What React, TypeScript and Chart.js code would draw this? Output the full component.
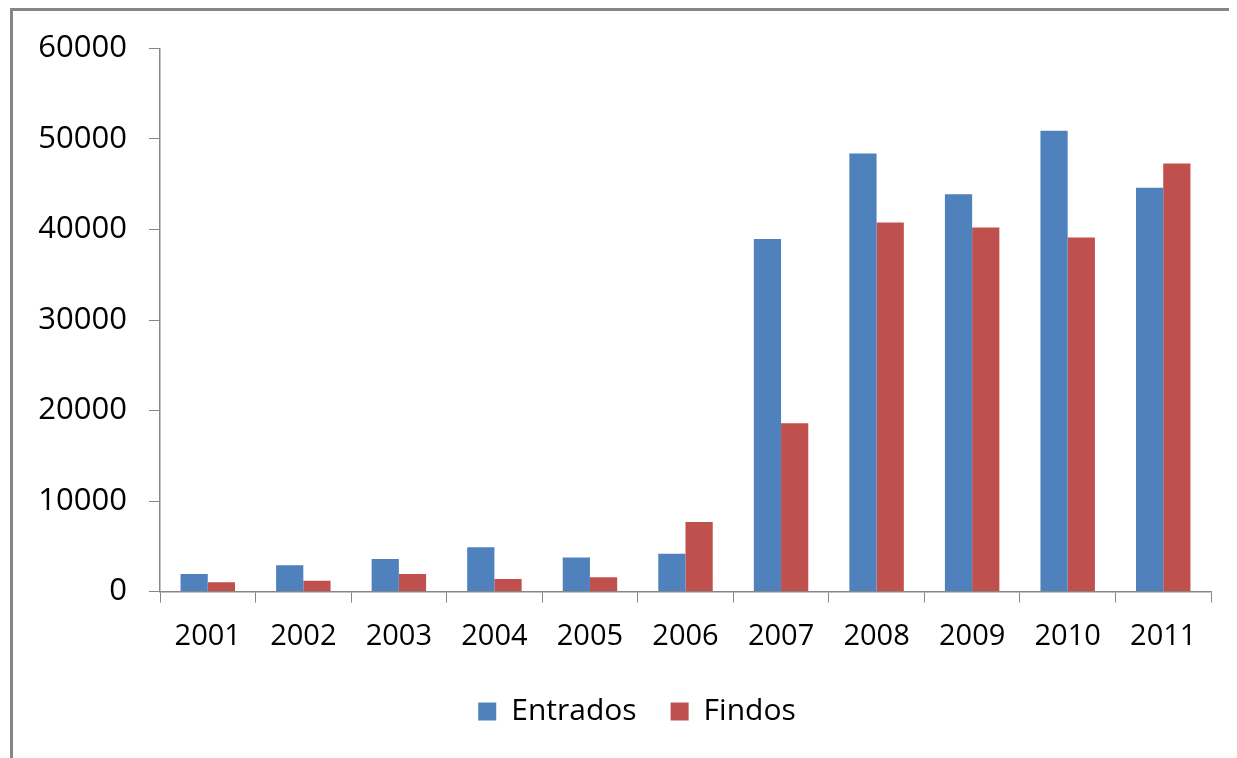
import React, { useEffect, useRef } from "react";
import { Chart, registerables } from "chart.js";

Chart.register(...registerables);

const categories = ["2001", "2002", "2003", "2004", "2005", "2006", "2007", "2008", "2009", "2010", "2011"];
const entrados = [1930, 2890, 3590, 4880, 3770, 4170, 38950, 48400, 43900, 50900, 44600];
const findos = [1015, 1190, 1930, 1380, 1565, 7670, 18600, 40780, 40220, 39120, 47280];
const yTicks = [0, 10000, 20000, 30000, 40000, 50000, 60000];

const FONT = "'Open Sans', Lato, sans-serif";
const AXIS_GRAY = "#868686";

const legendShift = {
  id: "legendShift",
  afterLayout(chart: any) {
    const l = chart.legend;
    if (l) {
      l.left += 25;
      l.right += 25;
      l.top -= 8;
      l.bottom -= 8;
    }
  },
};

export default function App() {
  const ref = useRef<HTMLCanvasElement | null>(null);

  useEffect(() => {
    if (!ref.current) return;
    const chart = new Chart(ref.current, {
      type: "bar",
      data: {
        labels: categories,
        datasets: [
          { label: "Entrados", data: entrados, backgroundColor: "#4F81BD", borderWidth: 0 },
          { label: "Findos", data: findos, backgroundColor: "#C0504D", borderWidth: 0 },
        ],
      },
      plugins: [legendShift],
      options: {
        animation: false,
        responsive: false,
        maintainAspectRatio: false,
        layout: { padding: { top: 0, right: 26, left: 0, bottom: 13.5 } },
        datasets: { bar: { categoryPercentage: 0.57, barPercentage: 1 } },
        plugins: {
          tooltip: { enabled: false },
          legend: {
            position: "bottom",
            labels: {
              boxWidth: 18,
              boxHeight: 18,
              padding: 34,
              color: "#000",
              font: { family: FONT, size: 30 },
            },
          },
        },
        scales: {
          x: {
            grid: { drawOnChartArea: false, tickLength: 11, color: AXIS_GRAY, offset: true },
            border: { color: AXIS_GRAY, width: 1.5 },
            ticks: {
              color: "#000",
              font: { family: FONT, size: 29, lineHeight: 1 },
              padding: 19.5,
              maxRotation: 0,
            },
          },
          y: {
            min: 0,
            max: 60000,
            afterBuildTicks: (s: any) => {
              s.ticks = yTicks.map((v) => ({ value: v }));
            },
            afterFit: (s: any) => {
              s.width = 147;
            },
            grid: { drawOnChartArea: false, tickLength: 11, color: AXIS_GRAY },
            border: { color: AXIS_GRAY, width: 1.5 },
            ticks: {
              color: "#000",
              font: { family: FONT, size: 31, lineHeight: 1 },
              padding: 22,
              callback: (v: any) => String(v),
            },
          },
        },
      },
    });
    return () => chart.destroy();
  }, []);

  return (
    <div
      style={{
        marginLeft: 2,
        width: 1227,
        height: 750,
        borderTop: `3px solid ${AXIS_GRAY}`,
        borderLeft: `3px solid ${AXIS_GRAY}`,
        background: "#fff",
        boxSizing: "border-box",
        overflow: "hidden",
      }}
    >
      <canvas ref={ref} width={1224} height={747} style={{ display: "block" }} />
    </div>
  );
}
